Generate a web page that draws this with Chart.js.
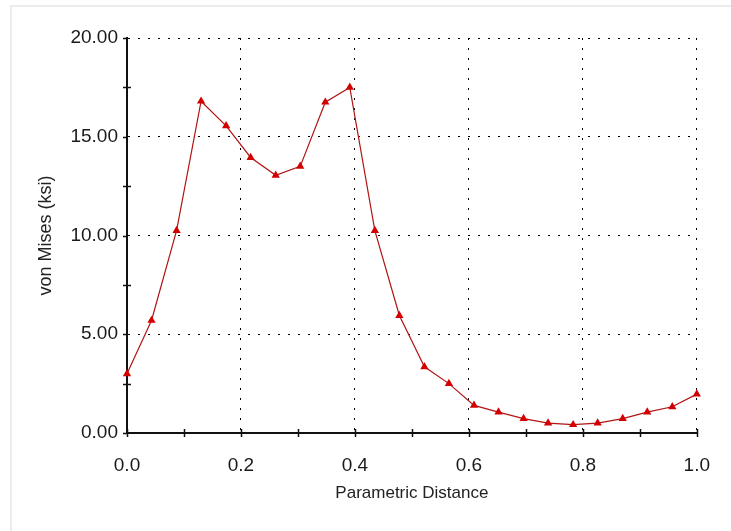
<!DOCTYPE html>
<html>
<head>
<meta charset="utf-8">
<script src="https://cdn.jsdelivr.net/npm/chart.js@4.4.0/dist/chart.umd.min.js"></script>
<style>
  html, body { margin: 0; padding: 0; background: #fff; }
  #wrap { position: relative; width: 731px; height: 531px; }
  #frame { position: absolute; left: 10px; top: 5px; right: 0; bottom: 0;
           border-top: 2px solid #ececec; border-left: 2px solid #ececec; }
  #chart { position: absolute; left: 0; top: 0; }
</style>
</head>
<body>
<div id="wrap">
  <div id="frame"></div>
  <canvas id="chart" width="731" height="531"></canvas>
</div>
<script>
// -------------------- data
var distance = [0.000, 0.043, 0.087, 0.130, 0.174, 0.217, 0.261, 0.304, 0.348, 0.391, 0.435, 0.478,
                0.522, 0.565, 0.609, 0.652, 0.696, 0.739, 0.783, 0.826, 0.870, 0.913, 0.957, 1.000];
var vonMises = [3.00, 5.70, 10.25, 16.80, 15.55, 13.95, 13.05, 13.50, 16.75, 17.50, 10.25, 5.95,
                3.35, 2.50, 1.40, 1.06, 0.73, 0.50, 0.42, 0.50, 0.73, 1.06, 1.33, 1.97];

var xTitle = 'Parametric Distance';
var yTitle = 'von Mises (ksi)';
var xMin = 0, xMax = 1, xStep = 0.1;   // labels every 0.2
var yMin = 0, yMax = 20, yStep = 2.5;  // labels every 5

var pts = [];
for (var i = 0; i < distance.length; i++) {
  pts.push({ x: distance[i], y: vonMises[i] });
}

function isMajorX(v){ return Math.round(v * 10) % 2 === 0; }
function isMajorY(v){ return Math.round(v * 2) % 2 === 0; }

// little tick marks crossing the axes
var tickMarks = {
  id: 'tickMarks',
  afterDraw: function(chart){
    var ctx = chart.ctx, xs = chart.scales.x, ys = chart.scales.y;
    var ax = xs.getPixelForValue(xMin), ay = ys.getPixelForValue(yMin);
    ctx.save();
    ctx.strokeStyle = '#111';
    ctx.lineWidth = 1.5;
    ctx.beginPath();
    xs.ticks.forEach(function(t){
      var px = Math.round(xs.getPixelForValue(t.value)) + 0.5;
      ctx.moveTo(px, ay - 4); ctx.lineTo(px, ay + 4);
    });
    ys.ticks.forEach(function(t){
      var py = Math.round(ys.getPixelForValue(t.value)) + 0.5;
      ctx.moveTo(ax - 4, py); ctx.lineTo(isMajorY(t.value) ? ax : ax + 4, py);
    });
    ctx.stroke();
    ctx.restore();
  }
};

var ctx = document.getElementById('chart').getContext('2d');
window.chart1 = new Chart(ctx, {
  type: 'line',
  data: {
    datasets: [{
      data: pts,
      borderColor: '#b01414',
      borderWidth: 1.2,
      pointStyle: 'triangle',
      pointRadius: 4.8,
      pointBackgroundColor: '#d40000',
      pointBorderColor: '#d40000',
      pointBorderWidth: 0,
      tension: 0,
      clip: false
    }]
  },
  options: {
    responsive: false,
    animation: false,
    events: [],
    layout: { padding: { top: 38, right: 24, left: 0, bottom: 0 } },
    plugins: { legend: { display: false }, tooltip: { enabled: false } },
    scales: {
      x: {
        type: 'linear',
        min: xMin, max: xMax,
        afterFit: function(s){ s.height = 98; },
        ticks: {
          stepSize: xStep, autoSkip: false, maxRotation: 0, padding: 21,
          color: '#1a1a1a',
          font: { family: 'Liberation Sans, Arial, sans-serif', size: 19 },
          callback: function(v){ return isMajorX(v) ? v.toFixed(1) : ''; }
        },
        grid: {
          drawTicks: false,
          lineWidth: 1,
          color: function(c){ return (c.tick && isMajorX(c.tick.value) && c.tick.value > 0) ? '#000' : 'rgba(0,0,0,0)'; }
        },
        border: { display: true, color: '#111', width: 2, dash: [2, 8] },
        title: {
          display: true, text: xTitle, color: '#222',
          font: { family: 'Liberation Sans, Arial, sans-serif', size: 17 },
          padding: { top: 0, bottom: 27 }
        }
      },
      y: {
        min: yMin, max: yMax,
        afterFit: function(s){ s.width = 127; },
        ticks: {
          stepSize: yStep, autoSkip: false, padding: 9,
          color: '#1a1a1a',
          font: { family: 'Liberation Sans, Arial, sans-serif', size: 19 },
          callback: function(v){ return isMajorY(v) ? v.toFixed(2) : ''; }
        },
        grid: {
          drawTicks: false,
          lineWidth: 1,
          color: function(c){ return (c.tick && isMajorY(c.tick.value) && c.tick.value > 0) ? '#000' : 'rgba(0,0,0,0)'; }
        },
        border: { display: true, color: '#111', width: 2, dash: [2, 8] },
        title: {
          display: true, text: yTitle, color: '#222',
          font: { family: 'Liberation Sans, Arial, sans-serif', size: 18 },
          padding: { top: 35, bottom: 0 }
        }
      }
    }
  },
  plugins: [tickMarks]
});
</script>
</body>
</html>
